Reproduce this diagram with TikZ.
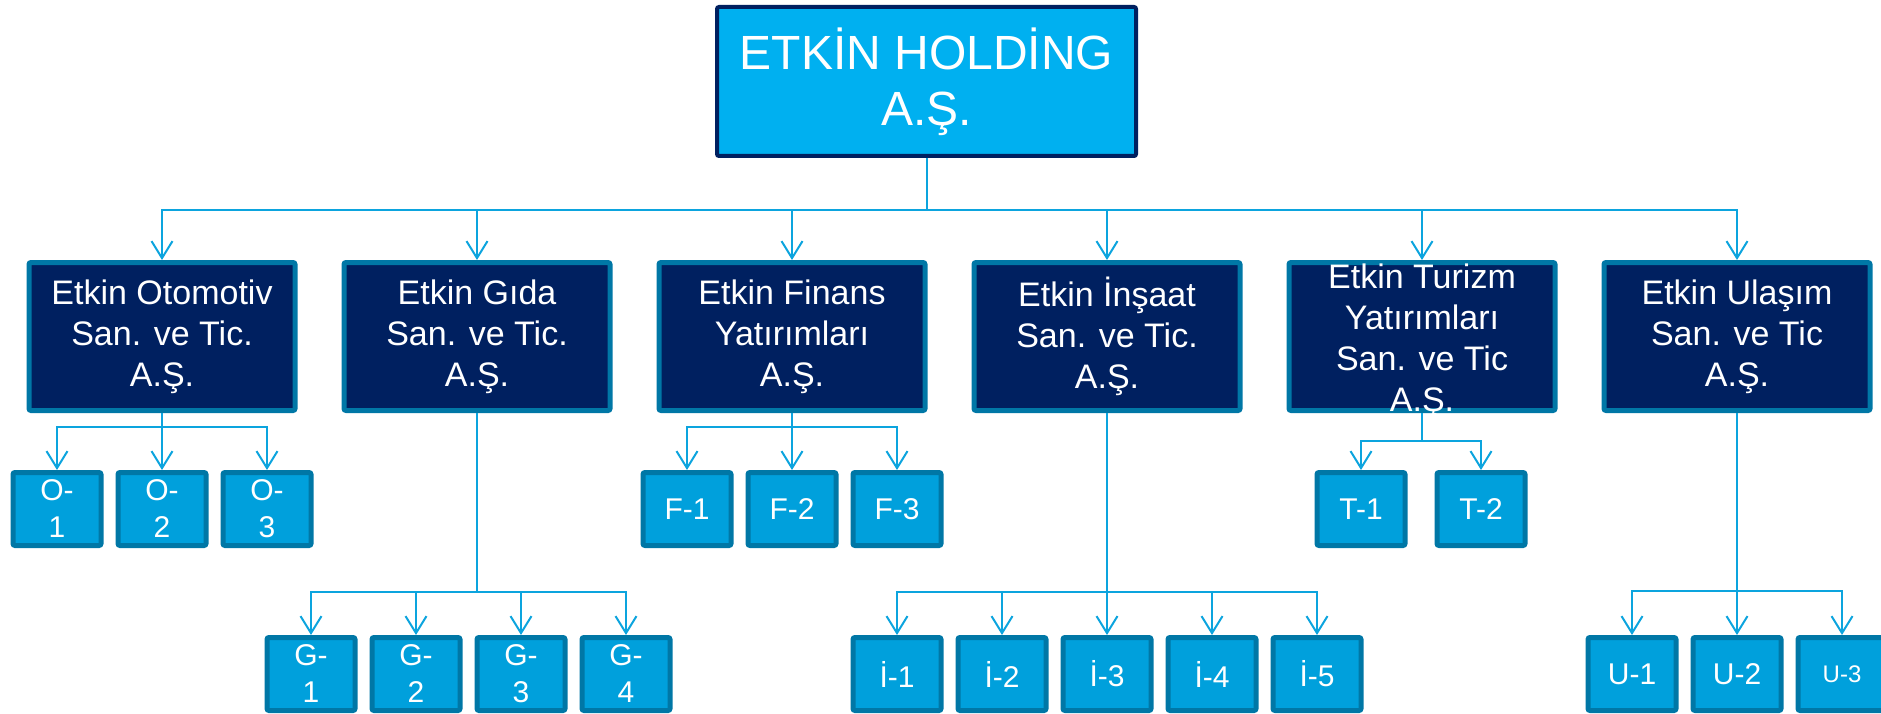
\documentclass[tikz,border=0pt]{standalone}
\usepackage{fontspec}
\setmainfont{Liberation Sans}
\usetikzlibrary{positioning,arrows.meta}

\definecolor{holdblue}{HTML}{00B0F0}
\definecolor{navy}{HTML}{002060}
\definecolor{rim}{HTML}{0077A6}
\definecolor{unitblue}{HTML}{00A0DC}
\definecolor{wire}{HTML}{0CA4DE}

\tikzset{
  holding/.style={draw=navy,line width=4pt,fill=holdblue,text=white,rounded corners=2pt,
    minimum width=419pt,minimum height=149pt,inner sep=0pt,align=center,
    font=\fontsize{48}{56}\selectfont},
  firm/.style={draw=rim,line width=5pt,fill=navy,text=white,rounded corners=2pt,
    minimum width=266pt,minimum height=148pt,inner sep=0pt,align=center,
    font=\fontsize{34}{41}\selectfont},
  firmtext/.style={text=white,inner sep=0pt,align=center,font=\fontsize{34}{41}\selectfont},
  unit/.style={draw=rim,line width=5pt,fill=unitblue,text=white,rounded corners=2pt,
    minimum width=88pt,minimum height=73pt,inner sep=0pt,align=center,
    font=\fontsize{30}{37}\selectfont},
  link/.style={wire,line width=2pt,-{Straight Barb[length=17pt,width=21pt]}}
}

\begin{document}
\begin{tikzpicture}[x=1pt,y=-1pt,node distance=44pt]
	\useasboundingbox (0,0) rectangle (1881,714);
	\node[holding] (hold) at (926.5,81.5) {ETKİN HOLDİNG\\A.Ş.};
	% companies
	\node[firm] (oto) at (162,336.5) {Etkin Otomotiv\\San. ve Tic.\\A.Ş.};
	\node[firm] (gida) [right=of oto] {Etkin Gıda\\San. ve Tic.\\A.Ş.};
	\node[firm] (fin) [right=of gida] {Etkin Finans\\Yatırımları\\A.Ş.};
	\node[firm] (ins) [right=of fin] {Etkin İnşaat\\San. ve Tic.\\A.Ş.};
	\node[firm] (tur) [right=of ins] {};
	\node[firmtext] (turtext) at ([yshift=-5pt]tur.center) {Etkin Turizm\\Yatırımları\\San. ve Tic\\A.Ş.};
	\node[firm] (ula) [right=of tur] {Etkin Ulaşım\\San. ve Tic\\A.Ş.};
	% units
	\node[unit] (o2) [below=57pt of oto] {O-\\2};
	\node[unit] (o1) [left=12pt of o2] {O-\\1};
	\node[unit] (o3) [right=12pt of o2] {O-\\3};
	\node[unit] (g1) at (311,674) {G-\\1};
	\node[unit] (g2) [right=12pt of g1] {G-\\2};
	\node[unit] (g3) [right=12pt of g2] {G-\\3};
	\node[unit] (g4) [right=12pt of g3] {G-\\4};
	\node[unit] (f2) [below=57pt of fin] {F-2};
	\node[unit] (f1) [left=12pt of f2] {F-1};
	\node[unit] (f3) [right=12pt of f2] {F-3};
	\node[unit] (i3) [below=222pt of ins] {İ-3};
	\node[unit] (i2) [left=12pt of i3] {İ-2};
	\node[unit] (i1) [left=12pt of i2] {İ-1};
	\node[unit] (i4) [right=12pt of i3] {İ-4};
	\node[unit] (i5) [right=12pt of i4] {İ-5};
	\node[unit] (t1) at (1361,509) {T-1};
	\node[unit] (t2) [right=27pt of t1] {T-2};
	\node[unit] (u2) [below=222pt of ula] {U-2};
	\node[unit] (u1) [left=12pt of u2] {U-1};
	\node[unit] (u3) [right=12pt of u2,font=\fontsize{24}{30}\selectfont] {U-3};
	% links
	\foreach \c in {oto,gida,fin,ins,tur,ula}
		\draw[link] (hold.south) -- ++(0,52) -| (\c.north);
	\foreach \c in {o1,o2,o3}
		\draw[link] (oto.south) -- ++(0,14) -| (\c.north);
	\foreach \c in {g1,g2,g3,g4}
		\draw[link] (gida.south) -- ++(0,179) -| (\c.north);
	\foreach \c in {f1,f2,f3}
		\draw[link] (fin.south) -- ++(0,14) -| (\c.north);
	\foreach \c in {i1,i2,i3,i4,i5}
		\draw[link] (ins.south) -- ++(0,179) -| (\c.north);
	\foreach \c in {t1,t2}
		\draw[link] (tur.south) -- ++(0,28) -| (\c.north);
	\foreach \c in {u1,u2,u3}
		\draw[link] (ula.south) -- ++(0,178) -| (\c.north);
\end{tikzpicture}
\end{document}
